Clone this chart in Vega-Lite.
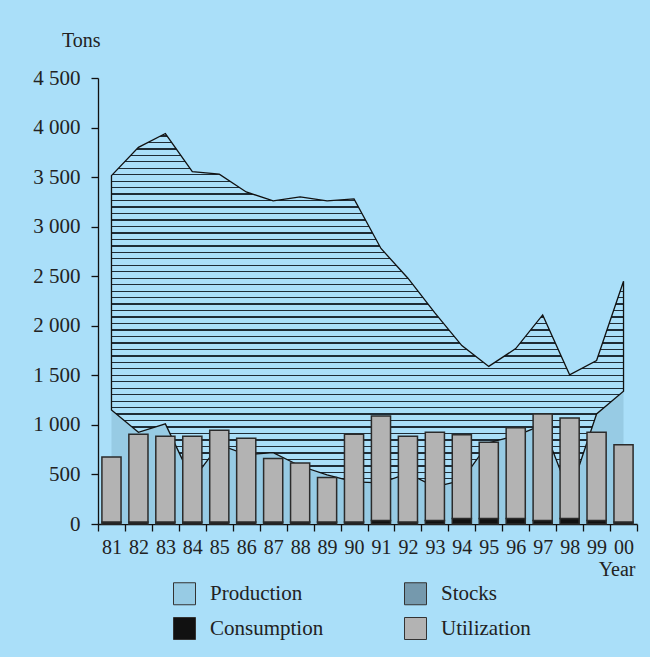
{
  "$schema": "https://vega.github.io/schema/vega-lite/v6.json",
  "width": 539,
  "height": 446,
  "autosize": {"type": "none"},
  "padding": {"left": 98, "top": 78, "right": 13, "bottom": 133},
  "background": "#aadff9",
  "config": {
    "font": "Liberation Serif",
    "view": {"stroke": null},
    "axis": {"labelFont": "Liberation Serif", "titleFont": "Liberation Serif", "labelColor": "#222222", "titleColor": "#222222", "domainColor": "#111111", "tickColor": "#111111", "domainWidth": 1.3, "tickWidth": 1.3, "tickSize": 7, "grid": false, "titleFontWeight": "normal", "labelOverlap": false},
    "axisX": {"tickBand": "extent", "labelAngle": 0, "labelFontSize": 20, "labelPadding": 6, "titleFontSize": 20, "titleX": 537, "titleY": 51, "titleAlign": "right", "titleBaseline": "alphabetic"},
    "axisY": {"labelFontSize": 21, "labelPadding": 11, "labelExpr": "replace(format(datum.value, ','), ',', ' ')", "titleFontSize": 20, "titleAngle": 0, "titleAlign": "right", "titleBaseline": "alphabetic", "titleX": 2, "titleY": -32}
  },
  "data": {"values": [
    {"Year": "81", "Production": 1150, "Stocks": 2365, "Consumption": 20, "Utilization": 655},
    {"Year": "82", "Production": 925, "Stocks": 2875, "Consumption": 20, "Utilization": 885},
    {"Year": "83", "Production": 1010, "Stocks": 2930, "Consumption": 20, "Utilization": 865},
    {"Year": "84", "Production": 440, "Stocks": 3115, "Consumption": 20, "Utilization": 865},
    {"Year": "85", "Production": 800, "Stocks": 2730, "Consumption": 20, "Utilization": 925},
    {"Year": "86", "Production": 700, "Stocks": 2650, "Consumption": 20, "Utilization": 845},
    {"Year": "87", "Production": 720, "Stocks": 2540, "Consumption": 20, "Utilization": 640},
    {"Year": "88", "Production": 585, "Stocks": 2715, "Consumption": 20, "Utilization": 595},
    {"Year": "89", "Production": 495, "Stocks": 2765, "Consumption": 20, "Utilization": 450},
    {"Year": "90", "Production": 425, "Stocks": 2855, "Consumption": 20, "Utilization": 885},
    {"Year": "91", "Production": 415, "Stocks": 2365, "Consumption": 35, "Utilization": 1055},
    {"Year": "92", "Production": 510, "Stocks": 1970, "Consumption": 20, "Utilization": 865},
    {"Year": "93", "Production": 375, "Stocks": 1755, "Consumption": 35, "Utilization": 890},
    {"Year": "94", "Production": 440, "Stocks": 1360, "Consumption": 55, "Utilization": 845},
    {"Year": "95", "Production": 820, "Stocks": 770, "Consumption": 55, "Utilization": 770},
    {"Year": "96", "Production": 890, "Stocks": 880, "Consumption": 55, "Utilization": 915},
    {"Year": "97", "Production": 1000, "Stocks": 1110, "Consumption": 35, "Utilization": 1075},
    {"Year": "98", "Production": 300, "Stocks": 1205, "Consumption": 55, "Utilization": 1015},
    {"Year": "99", "Production": 1110, "Stocks": 540, "Consumption": 35, "Utilization": 890},
    {"Year": "00", "Production": 1340, "Stocks": 1110, "Consumption": 20, "Utilization": 780}
  ]},
  "layer": [
    {
      "transform": [
        {"fold": ["Production", "Stocks"], "as": ["series", "amount"]},
        {"stack": "amount", "groupby": ["Year"], "sort": [{"field": "series", "order": "ascending"}], "as": ["lo", "hi"]}
      ],
      "layer": [
        {
          "transform": [{"filter": "datum.series === 'Production'"}],
          "mark": {"type": "area", "fill": "#97cbe4", "stroke": null},
          "encoding": {
            "x": {"field": "Year", "type": "ordinal", "title": "Year", "scale": {"type": "band", "domain": ["81","82","83","84","85","86","87","88","89","90","91","92","93","94","95","96","97","98","99","00"], "paddingInner": 0, "paddingOuter": 0}},
            "y": {"field": "hi", "type": "quantitative", "title": "Tons", "scale": {"domain": [0, 4500], "nice": false}, "axis": {"values": [0, 500, 1000, 1500, 2000, 2500, 3000, 3500, 4000, 4500]}},
            "y2": {"field": "lo"},
            "order": {"value": null}
          }
        },
        {
          "transform": [{"filter": "datum.series === 'Stocks'"}],
          "mark": {"type": "area", "stroke": "#111111", "strokeWidth": 1.3, "fill": {"gradient": "linear", "x1": 0, "y1": 0, "x2": 0, "y2": 1, "stops": [
            {"offset": 0, "color": "#aadff9"},
            {"offset": 0.0049, "color": "#aadff9"}, {"offset": 0.0049, "color": "#1e2c36"}, {"offset": 0.0085, "color": "#1e2c36"}, {"offset": 0.0085, "color": "#aadff9"},
            {"offset": 0.0228, "color": "#aadff9"}, {"offset": 0.0228, "color": "#1e2c36"}, {"offset": 0.0264, "color": "#1e2c36"}, {"offset": 0.0264, "color": "#aadff9"},
            {"offset": 0.0408, "color": "#aadff9"}, {"offset": 0.0408, "color": "#1e2c36"}, {"offset": 0.0444, "color": "#1e2c36"}, {"offset": 0.0444, "color": "#aadff9"},
            {"offset": 0.0587, "color": "#aadff9"}, {"offset": 0.0587, "color": "#1e2c36"}, {"offset": 0.0623, "color": "#1e2c36"}, {"offset": 0.0623, "color": "#aadff9"},
            {"offset": 0.0766, "color": "#aadff9"}, {"offset": 0.0766, "color": "#1e2c36"}, {"offset": 0.0802, "color": "#1e2c36"}, {"offset": 0.0802, "color": "#aadff9"},
            {"offset": 0.0946, "color": "#aadff9"}, {"offset": 0.0946, "color": "#1e2c36"}, {"offset": 0.0982, "color": "#1e2c36"}, {"offset": 0.0982, "color": "#aadff9"},
            {"offset": 0.1125, "color": "#aadff9"}, {"offset": 0.1125, "color": "#1e2c36"}, {"offset": 0.1161, "color": "#1e2c36"}, {"offset": 0.1161, "color": "#aadff9"},
            {"offset": 0.1304, "color": "#aadff9"}, {"offset": 0.1304, "color": "#1e2c36"}, {"offset": 0.1340, "color": "#1e2c36"}, {"offset": 0.1340, "color": "#aadff9"},
            {"offset": 0.1484, "color": "#aadff9"}, {"offset": 0.1484, "color": "#1e2c36"}, {"offset": 0.1520, "color": "#1e2c36"}, {"offset": 0.1520, "color": "#aadff9"},
            {"offset": 0.1663, "color": "#aadff9"}, {"offset": 0.1663, "color": "#1e2c36"}, {"offset": 0.1699, "color": "#1e2c36"}, {"offset": 0.1699, "color": "#aadff9"},
            {"offset": 0.1842, "color": "#aadff9"}, {"offset": 0.1842, "color": "#1e2c36"}, {"offset": 0.1878, "color": "#1e2c36"}, {"offset": 0.1878, "color": "#aadff9"},
            {"offset": 0.2022, "color": "#aadff9"}, {"offset": 0.2022, "color": "#1e2c36"}, {"offset": 0.2058, "color": "#1e2c36"}, {"offset": 0.2058, "color": "#aadff9"},
            {"offset": 0.2201, "color": "#aadff9"}, {"offset": 0.2201, "color": "#1e2c36"}, {"offset": 0.2237, "color": "#1e2c36"}, {"offset": 0.2237, "color": "#aadff9"},
            {"offset": 0.2380, "color": "#aadff9"}, {"offset": 0.2380, "color": "#1e2c36"}, {"offset": 0.2416, "color": "#1e2c36"}, {"offset": 0.2416, "color": "#aadff9"},
            {"offset": 0.2560, "color": "#aadff9"}, {"offset": 0.2560, "color": "#1e2c36"}, {"offset": 0.2596, "color": "#1e2c36"}, {"offset": 0.2596, "color": "#aadff9"},
            {"offset": 0.2739, "color": "#aadff9"}, {"offset": 0.2739, "color": "#1e2c36"}, {"offset": 0.2775, "color": "#1e2c36"}, {"offset": 0.2775, "color": "#aadff9"},
            {"offset": 0.2918, "color": "#aadff9"}, {"offset": 0.2918, "color": "#1e2c36"}, {"offset": 0.2954, "color": "#1e2c36"}, {"offset": 0.2954, "color": "#aadff9"},
            {"offset": 0.3098, "color": "#aadff9"}, {"offset": 0.3098, "color": "#1e2c36"}, {"offset": 0.3134, "color": "#1e2c36"}, {"offset": 0.3134, "color": "#aadff9"},
            {"offset": 0.3277, "color": "#aadff9"}, {"offset": 0.3277, "color": "#1e2c36"}, {"offset": 0.3313, "color": "#1e2c36"}, {"offset": 0.3313, "color": "#aadff9"},
            {"offset": 0.3456, "color": "#aadff9"}, {"offset": 0.3456, "color": "#1e2c36"}, {"offset": 0.3492, "color": "#1e2c36"}, {"offset": 0.3492, "color": "#aadff9"},
            {"offset": 0.3636, "color": "#aadff9"}, {"offset": 0.3636, "color": "#1e2c36"}, {"offset": 0.3672, "color": "#1e2c36"}, {"offset": 0.3672, "color": "#aadff9"},
            {"offset": 0.3815, "color": "#aadff9"}, {"offset": 0.3815, "color": "#1e2c36"}, {"offset": 0.3851, "color": "#1e2c36"}, {"offset": 0.3851, "color": "#aadff9"},
            {"offset": 0.3994, "color": "#aadff9"}, {"offset": 0.3994, "color": "#1e2c36"}, {"offset": 0.4030, "color": "#1e2c36"}, {"offset": 0.4030, "color": "#aadff9"},
            {"offset": 0.4174, "color": "#aadff9"}, {"offset": 0.4174, "color": "#1e2c36"}, {"offset": 0.4210, "color": "#1e2c36"}, {"offset": 0.4210, "color": "#aadff9"},
            {"offset": 0.4353, "color": "#aadff9"}, {"offset": 0.4353, "color": "#1e2c36"}, {"offset": 0.4389, "color": "#1e2c36"}, {"offset": 0.4389, "color": "#aadff9"},
            {"offset": 0.4532, "color": "#aadff9"}, {"offset": 0.4532, "color": "#1e2c36"}, {"offset": 0.4568, "color": "#1e2c36"}, {"offset": 0.4568, "color": "#aadff9"},
            {"offset": 0.4712, "color": "#aadff9"}, {"offset": 0.4712, "color": "#1e2c36"}, {"offset": 0.4748, "color": "#1e2c36"}, {"offset": 0.4748, "color": "#aadff9"},
            {"offset": 0.4891, "color": "#aadff9"}, {"offset": 0.4891, "color": "#1e2c36"}, {"offset": 0.4927, "color": "#1e2c36"}, {"offset": 0.4927, "color": "#aadff9"},
            {"offset": 0.5070, "color": "#aadff9"}, {"offset": 0.5070, "color": "#1e2c36"}, {"offset": 0.5106, "color": "#1e2c36"}, {"offset": 0.5106, "color": "#aadff9"},
            {"offset": 0.5250, "color": "#aadff9"}, {"offset": 0.5250, "color": "#1e2c36"}, {"offset": 0.5286, "color": "#1e2c36"}, {"offset": 0.5286, "color": "#aadff9"},
            {"offset": 0.5429, "color": "#aadff9"}, {"offset": 0.5429, "color": "#1e2c36"}, {"offset": 0.5465, "color": "#1e2c36"}, {"offset": 0.5465, "color": "#aadff9"},
            {"offset": 0.5608, "color": "#aadff9"}, {"offset": 0.5608, "color": "#1e2c36"}, {"offset": 0.5644, "color": "#1e2c36"}, {"offset": 0.5644, "color": "#aadff9"},
            {"offset": 0.5788, "color": "#aadff9"}, {"offset": 0.5788, "color": "#1e2c36"}, {"offset": 0.5824, "color": "#1e2c36"}, {"offset": 0.5824, "color": "#aadff9"},
            {"offset": 0.5967, "color": "#aadff9"}, {"offset": 0.5967, "color": "#1e2c36"}, {"offset": 0.6003, "color": "#1e2c36"}, {"offset": 0.6003, "color": "#aadff9"},
            {"offset": 0.6146, "color": "#aadff9"}, {"offset": 0.6146, "color": "#1e2c36"}, {"offset": 0.6182, "color": "#1e2c36"}, {"offset": 0.6182, "color": "#aadff9"},
            {"offset": 0.6326, "color": "#aadff9"}, {"offset": 0.6326, "color": "#1e2c36"}, {"offset": 0.6362, "color": "#1e2c36"}, {"offset": 0.6362, "color": "#aadff9"},
            {"offset": 0.6505, "color": "#aadff9"}, {"offset": 0.6505, "color": "#1e2c36"}, {"offset": 0.6541, "color": "#1e2c36"}, {"offset": 0.6541, "color": "#aadff9"},
            {"offset": 0.6684, "color": "#aadff9"}, {"offset": 0.6684, "color": "#1e2c36"}, {"offset": 0.6720, "color": "#1e2c36"}, {"offset": 0.6720, "color": "#aadff9"},
            {"offset": 0.6864, "color": "#aadff9"}, {"offset": 0.6864, "color": "#1e2c36"}, {"offset": 0.6900, "color": "#1e2c36"}, {"offset": 0.6900, "color": "#aadff9"},
            {"offset": 0.7043, "color": "#aadff9"}, {"offset": 0.7043, "color": "#1e2c36"}, {"offset": 0.7079, "color": "#1e2c36"}, {"offset": 0.7079, "color": "#aadff9"},
            {"offset": 0.7222, "color": "#aadff9"}, {"offset": 0.7222, "color": "#1e2c36"}, {"offset": 0.7258, "color": "#1e2c36"}, {"offset": 0.7258, "color": "#aadff9"},
            {"offset": 0.7402, "color": "#aadff9"}, {"offset": 0.7402, "color": "#1e2c36"}, {"offset": 0.7438, "color": "#1e2c36"}, {"offset": 0.7438, "color": "#aadff9"},
            {"offset": 0.7581, "color": "#aadff9"}, {"offset": 0.7581, "color": "#1e2c36"}, {"offset": 0.7617, "color": "#1e2c36"}, {"offset": 0.7617, "color": "#aadff9"},
            {"offset": 0.7760, "color": "#aadff9"}, {"offset": 0.7760, "color": "#1e2c36"}, {"offset": 0.7796, "color": "#1e2c36"}, {"offset": 0.7796, "color": "#aadff9"},
            {"offset": 0.7940, "color": "#aadff9"}, {"offset": 0.7940, "color": "#1e2c36"}, {"offset": 0.7976, "color": "#1e2c36"}, {"offset": 0.7976, "color": "#aadff9"},
            {"offset": 0.8119, "color": "#aadff9"}, {"offset": 0.8119, "color": "#1e2c36"}, {"offset": 0.8155, "color": "#1e2c36"}, {"offset": 0.8155, "color": "#aadff9"},
            {"offset": 0.8298, "color": "#aadff9"}, {"offset": 0.8298, "color": "#1e2c36"}, {"offset": 0.8334, "color": "#1e2c36"}, {"offset": 0.8334, "color": "#aadff9"},
            {"offset": 0.8478, "color": "#aadff9"}, {"offset": 0.8478, "color": "#1e2c36"}, {"offset": 0.8514, "color": "#1e2c36"}, {"offset": 0.8514, "color": "#aadff9"},
            {"offset": 0.8657, "color": "#aadff9"}, {"offset": 0.8657, "color": "#1e2c36"}, {"offset": 0.8693, "color": "#1e2c36"}, {"offset": 0.8693, "color": "#aadff9"},
            {"offset": 0.8836, "color": "#aadff9"}, {"offset": 0.8836, "color": "#1e2c36"}, {"offset": 0.8872, "color": "#1e2c36"}, {"offset": 0.8872, "color": "#aadff9"},
            {"offset": 0.9016, "color": "#aadff9"}, {"offset": 0.9016, "color": "#1e2c36"}, {"offset": 0.9052, "color": "#1e2c36"}, {"offset": 0.9052, "color": "#aadff9"},
            {"offset": 0.9195, "color": "#aadff9"}, {"offset": 0.9195, "color": "#1e2c36"}, {"offset": 0.9231, "color": "#1e2c36"}, {"offset": 0.9231, "color": "#aadff9"},
            {"offset": 0.9374, "color": "#aadff9"}, {"offset": 0.9374, "color": "#1e2c36"}, {"offset": 0.9410, "color": "#1e2c36"}, {"offset": 0.9410, "color": "#aadff9"},
            {"offset": 0.9554, "color": "#aadff9"}, {"offset": 0.9554, "color": "#1e2c36"}, {"offset": 0.9590, "color": "#1e2c36"}, {"offset": 0.9590, "color": "#aadff9"},
            {"offset": 0.9733, "color": "#aadff9"}, {"offset": 0.9733, "color": "#1e2c36"}, {"offset": 0.9769, "color": "#1e2c36"}, {"offset": 0.9769, "color": "#aadff9"},
            {"offset": 0.9912, "color": "#aadff9"}, {"offset": 0.9912, "color": "#1e2c36"}, {"offset": 0.9948, "color": "#1e2c36"}, {"offset": 0.9948, "color": "#aadff9"},
            {"offset": 1, "color": "#aadff9"}
          ]}},
          "encoding": {
            "x": {"field": "Year", "type": "ordinal", "title": "Year", "scale": {"type": "band", "domain": ["81","82","83","84","85","86","87","88","89","90","91","92","93","94","95","96","97","98","99","00"], "paddingInner": 0, "paddingOuter": 0}},
            "y": {"field": "hi", "type": "quantitative", "title": "Tons", "scale": {"domain": [0, 4500], "nice": false}, "axis": {"values": [0, 500, 1000, 1500, 2000, 2500, 3000, 3500, 4000, 4500]}},
            "y2": {"field": "lo"},
            "order": {"value": null}
          }
        }
      ]
    },
    {
      "transform": [{"fold": ["Consumption", "Utilization"], "as": ["series", "value"]}],
      "mark": {"type": "bar", "width": {"band": 0.71}, "stroke": "#2b2b2b", "strokeWidth": 1.5},
      "encoding": {
        "x": {"field": "Year", "type": "ordinal", "title": "Year", "scale": {"type": "band", "domain": ["81","82","83","84","85","86","87","88","89","90","91","92","93","94","95","96","97","98","99","00"], "paddingInner": 0, "paddingOuter": 0}},
        "y": {"field": "value", "type": "quantitative", "stack": "zero", "title": "Tons", "scale": {"domain": [0, 4500], "nice": false}, "axis": {"values": [0, 500, 1000, 1500, 2000, 2500, 3000, 3500, 4000, 4500]}},
        "order": {"field": "series", "type": "nominal", "sort": "ascending"},
        "color": {
          "field": "series",
          "type": "nominal",
          "scale": {"domain": ["Production", "Stocks", "Consumption", "Utilization"], "range": ["#97cbe4", "#7599ad", "#111111", "#b3b3b3"]},
          "legend": {
            "orient": "none",
            "legendX": 75,
            "legendY": 504,
            "direction": "horizontal",
            "columns": 2,
            "title": null,
            "padding": 0,
            "symbolType": "square",
            "symbolSize": 484,
            "symbolStrokeColor": "#333333",
            "symbolStrokeWidth": 1,
            "labelFont": "Liberation Serif",
            "labelFontSize": 21,
            "labelColor": "#222222",
            "labelOffset": 14,
            "columnPadding": 78,
            "rowPadding": 8
          }
        }
      }
    }
  ]
}
